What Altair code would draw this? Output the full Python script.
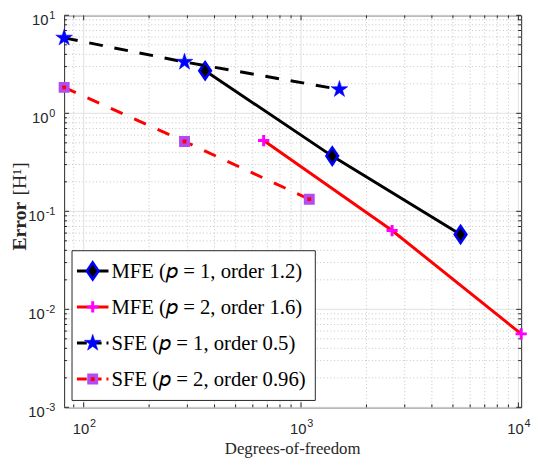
import math
import altair as alt
import pandas as pd

# ---- data ----
mfe1_dof = [362, 1392, 5420]
mfe1_err = [2.72, 0.366, 0.0581]
mfe2_dof = [673, 2624, 10300]
mfe2_err = [0.528, 0.0637, 0.00562]
sfe1_dof = [81.3, 291, 1502]
sfe1_err = [5.89, 3.34, 1.756]
sfe2_dof = [81.3, 291, 1091]
sfe2_err = [1.84, 0.516, 0.133]

series_labels = [
    "MFE (𝑝 = 1, order 1.2)",
    "MFE (𝑝 = 2, order 1.6)",
    "SFE (𝑝 = 1, order 0.5)",
    "SFE (𝑝 = 2, order 0.96)",
]

x_major = [100, 1000, 10000]
x_major_exp = ["2", "3", "4"]
y_major = [0.001, 0.01, 0.1, 1, 10]
y_major_exp = ["-3", "-2", "-1", "0", "1"]
x_minor = [90, 200, 300, 400, 500, 600, 700, 800, 900,
           2000, 3000, 4000, 5000, 6000, 7000, 8000, 9000]
y_minor = [m * d for d in (0.001, 0.01, 0.1, 1) for m in range(2, 10)]

W, H = 464, 398
xmin = min(sfe1_dof + sfe2_dof)
xmax = max(mfe2_dof)
xscale = alt.Scale(type="log", domain=[xmin, xmax], nice=False)
yscale = alt.Scale(type="log", domain=[0.001, 10], nice=False)

AX = "#262626"
GRID = "#e1e1e1"
MINOR = "#c4c4c4"
SERIF = "Liberation Serif"
SANS = "Liberation Sans"
BASE_FS = 15
EXP_FS = 11

# star symbol path in the [-1, 1] box
pts = []
for k in range(10):
    r = 1.0 if k % 2 == 0 else 0.382
    a = math.radians(-90 + 36 * k)
    pts.append(f"{r * math.cos(a):.3f},{r * math.sin(a):.3f}")
STAR = "M" + "L".join(pts) + "Z"
DIAMOND = "M0,-1L0.68,0L0,1L-0.68,0Z"
PLUS = "M-1,0L1,0M0,-1L0,1"


def X(f="v"):
    return alt.X(f"{f}:Q", scale=xscale, axis=None)


def Y(f="v"):
    return alt.Y(f"{f}:Q", scale=yscale, axis=None)


xmaj_df = pd.DataFrame({"v": x_major, "e": x_major_exp})
ymaj_df = pd.DataFrame({"v": y_major, "e": y_major_exp})
xmin_df = pd.DataFrame({"v": x_minor})
ymin_df = pd.DataFrame({"v": y_minor})

# grid
grid = [
    alt.Chart(xmin_df).mark_rule(color=MINOR, strokeDash=[1, 2.5], strokeWidth=1).encode(x=X()),
    alt.Chart(ymin_df).mark_rule(color=MINOR, strokeDash=[1, 2.5], strokeWidth=1).encode(y=Y()),
    alt.Chart(xmaj_df).mark_rule(color=GRID, strokeWidth=1).encode(x=X()),
    alt.Chart(ymaj_df).mark_rule(color=GRID, strokeWidth=1).encode(y=Y()),
]


# inward tick marks on all four sides
def xticks(df, ln):
    return [
        alt.Chart(df).mark_rule(color=AX, strokeWidth=1).encode(
            x=X(), y=alt.value(H), y2=alt.value(H - ln)),
        alt.Chart(df).mark_rule(color=AX, strokeWidth=1).encode(
            x=X(), y=alt.value(0), y2=alt.value(ln)),
    ]


def yticks(df, ln):
    return [
        alt.Chart(df).mark_rule(color=AX, strokeWidth=1).encode(
            y=Y(), x=alt.value(0), x2=alt.value(ln)),
        alt.Chart(df).mark_rule(color=AX, strokeWidth=1).encode(
            y=Y(), x=alt.value(W), x2=alt.value(W - ln)),
    ]


ticks = xticks(xmaj_df, 5) + xticks(xmin_df, 3) + yticks(ymaj_df, 5) + yticks(ymin_df, 3)

one = pd.DataFrame({"a": [0]})

# x tick labels: "10" + raised exponent
labels = [
    alt.Chart(xmaj_df).mark_text(font=SANS, fontSize=BASE_FS, color=AX, align="right",
                                 baseline="alphabetic", dx=5.5).encode(
        x=X(), y=alt.value(H + 27), text=alt.value("10")),
    alt.Chart(xmaj_df).mark_text(font=SANS, fontSize=EXP_FS, color=AX, align="left",
                                 baseline="alphabetic", dx=6.3).encode(
        x=X(), y=alt.value(H + 20), text="e:N"),
]


# y tick labels: right-aligned "10" + exponent, one layer per label
def ewidth(s):
    return sum(0.34 * EXP_FS if ch == "-" else 0.556 * EXP_FS for ch in s)


for v, e in zip(y_major, y_major_exp):
    d = pd.DataFrame({"v": [v], "e": [e]})
    labels.append(alt.Chart(d).mark_text(font=SANS, fontSize=EXP_FS, color=AX, align="right",
                                         baseline="alphabetic", dy=4).encode(
        y=Y(), x=alt.value(-9), text="e:N"))
    labels.append(alt.Chart(d).mark_text(font=SANS, fontSize=BASE_FS, color=AX, align="right",
                                         baseline="alphabetic", dy=10,
                                         dx=-(ewidth(e) + 0.8)).encode(
        y=Y(), x=alt.value(-9), text=alt.value("10")))

labels += [
    alt.Chart(one).mark_text(font=SERIF, fontSize=17, color=AX, align="center",
                             baseline="alphabetic").encode(
        x=alt.value(W / 2), y=alt.value(H + 47), text=alt.value("Degrees-of-freedom")),
    alt.Chart(one).mark_text(angle=270, align="center", baseline="middle", font=SERIF, fontSize=20,
                             fontWeight="bold", color=AX).encode(
        x=alt.value(-45), y=alt.value(214), text=alt.value("Error")),
    alt.Chart(one).mark_text(angle=270, align="center", baseline="middle", font=SERIF, fontSize=20,
                             color=AX).encode(
        x=alt.value(-45), y=alt.value(166), text=alt.value("[H¹]")),
]

styles = [
    dict(dof=mfe1_dof, err=mfe1_err, line="#000000", dash=None,
         pt=dict(shape=DIAMOND, size=300, fill="#000000", stroke="#0000ff", strokeWidth=2.6, filled=True)),
    dict(dof=mfe2_dof, err=mfe2_err, line="#ff0000", dash=None,
         pt=dict(shape=PLUS, size=130, stroke="#ff00ff", strokeWidth=3, filled=False)),
    dict(dof=sfe1_dof, err=sfe1_err, line="#000000", dash=[14, 12],
         pt=dict(shape=STAR, size=320, fill="#0000ff", stroke="#0000ff", strokeWidth=0.5, filled=True)),
    dict(dof=sfe2_dof, err=sfe2_err, line="#ff0000", dash=[13, 13],
         pt=dict(shape="square", size=56, fill="#ff0000", stroke="#b24bf3", strokeWidth=3.6, filled=True)),
]

data_layers = []
for s in styles:
    df = pd.DataFrame({"dof": s["dof"], "err": s["err"]})
    lk = dict(color=s["line"], strokeWidth=3)
    if s["dash"]:
        lk["strokeDash"] = s["dash"]
    enc = dict(x=X("dof"), y=Y("err"))
    data_layers.append(alt.Chart(df).mark_line(**lk).encode(**enc))
    data_layers.append(alt.Chart(df).mark_point(opacity=1, **s["pt"]).encode(**enc))

# legend box
LX0, LX1, LY0, LY1 = 8, 255, 239, 391
leg = [alt.Chart(one).mark_rect(fill="white", stroke=AX, strokeWidth=1).encode(
    x=alt.value(LX0), x2=alt.value(LX1), y=alt.value(LY0), y2=alt.value(LY1))]
for i, (s, lab) in enumerate(zip(styles, series_labels)):
    yy = 259.5 + 36.6 * i
    lk = dict(color=s["line"], strokeWidth=3)
    if s["dash"]:
        lk["strokeDash"] = [10, 5]
    leg.append(alt.Chart(one).mark_rule(**lk).encode(
        x=alt.value(13), x2=alt.value(45), y=alt.value(yy)))
    leg.append(alt.Chart(one).mark_point(opacity=1, **s["pt"]).encode(
        x=alt.value(29), y=alt.value(yy)))
    leg.append(alt.Chart(one).mark_text(align="left", baseline="middle", font=SERIF, fontSize=21,
                                        color="#000000").encode(
        x=alt.value(48), y=alt.value(yy + 1), text=alt.value(lab)))

chart = alt.layer(*grid, *ticks, *data_layers, *leg, *labels).properties(
    width=W, height=H,
    padding={"left": 57, "top": 4, "right": 11, "bottom": 48},
    autosize=alt.AutoSizeParams(type="none"),
).configure_view(stroke=AX, strokeWidth=1)

chart.save("out.html", embed_options={"renderer": "svg", "actions": False})
